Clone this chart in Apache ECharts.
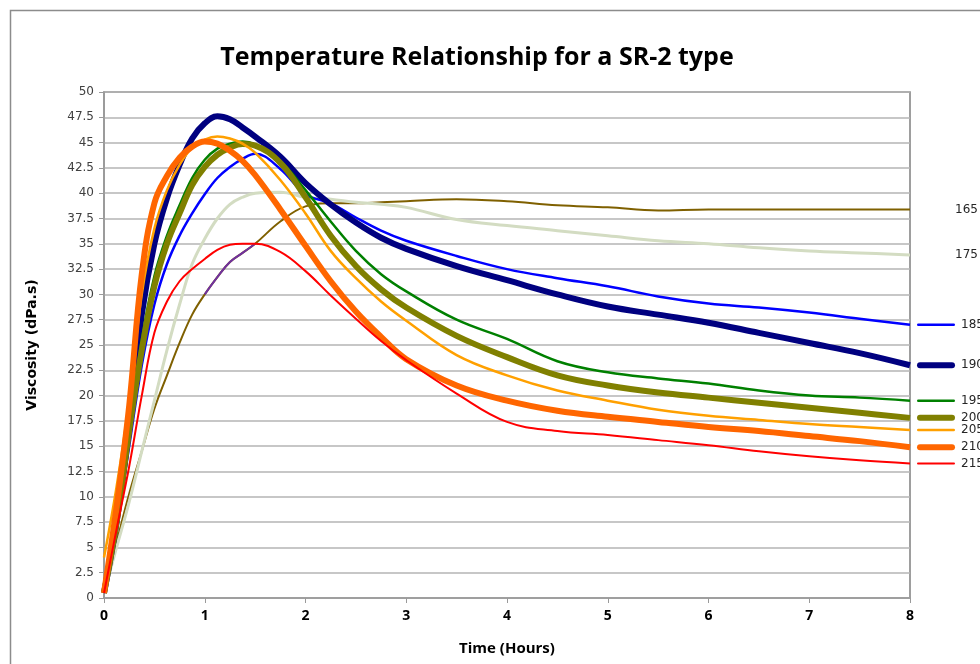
<!DOCTYPE html>
<html>
<head>
<meta charset="utf-8">
<script src="https://cdn.jsdelivr.net/npm/echarts@6/dist/echarts.min.js"></script>
<style>
  html, body { margin: 0; padding: 0; background: #ffffff; }
  #chart { width: 980px; height: 664px; }
</style>
</head>
<body>
<div id="chart"></div>
<script>
// Time (hours)
const times = [0, 0.125, 0.25, 0.375, 0.5, 0.625, 0.75, 0.875, 1, 1.125, 1.25, 1.375, 1.5, 1.75, 2, 2.25, 2.5, 2.75, 3, 3.5, 4, 4.5, 5, 5.5, 6, 6.5, 7, 7.5, 8];
// Viscosity (dPa.s) per temperature series
const v165 = [0.5, 5.5, 10.3, 14.5, 18.7, 22, 25.2, 28, 30, 31.7, 33.2, 34.1, 35, 37.2, 38.7, 39.0, 39.0, 39.1, 39.2, 39.4, 39.2, 38.8, 38.6, 38.3, 38.4, 38.4, 38.4, 38.4, 38.4];
const v175 = [0.5, 5, 9.5, 14.5, 19.5, 24.5, 29, 33, 35.5, 37.5, 38.9, 39.6, 40, 40.1, 39.6, 39.4, 39.1, 38.9, 38.6, 37.4, 36.8, 36.3, 35.8, 35.3, 35.0, 34.6, 34.3, 34.1, 33.9];
const v185 = [0.5, 7, 15, 23, 29, 33, 35.8, 38, 39.9, 41.5, 42.6, 43.4, 43.9, 42.4, 39.9, 39.0, 37.6, 36.3, 35.3, 33.8, 32.5, 31.6, 30.8, 29.8, 29.1, 28.7, 28.2, 27.6, 27.0];
const v190 = [0.5, 7.5, 17, 28, 35, 39.5, 42.8, 45.4, 46.9, 47.6, 47.3, 46.5, 45.6, 43.6, 41.0, 38.9, 37.1, 35.6, 34.5, 32.8, 31.4, 30.0, 28.8, 28.0, 27.2, 26.2, 25.2, 24.2, 23.0];
const v195 = [0.5, 7.8, 17, 25.5, 31.8, 35.8, 38.8, 41.5, 43.3, 44.4, 44.9, 45.1, 44.8, 43.2, 40.3, 37.2, 34.3, 32.0, 30.3, 27.5, 25.6, 23.4, 22.3, 21.7, 21.2, 20.5, 20.0, 19.8, 19.5];
const v200 = [0.5, 7.5, 16.5, 24.5, 30.8, 35, 38, 40.8, 42.6, 43.8, 44.5, 44.85, 44.7, 43.0, 39.6, 35.8, 32.8, 30.5, 28.7, 25.9, 23.8, 22.0, 21.0, 20.3, 19.8, 19.3, 18.8, 18.3, 17.8];
const v205 = [4, 11, 19.5, 30, 36.5, 40.3, 42.8, 44.5, 45.3, 45.6, 45.4, 44.9, 44.0, 41.3, 38.0, 34.3, 31.6, 29.3, 27.4, 24.0, 22.0, 20.5, 19.5, 18.6, 18.0, 17.6, 17.2, 16.9, 16.6];
const v210 = [0.5, 9, 19, 32, 39, 41.7, 43.5, 44.6, 45.1, 44.9, 44.2, 43.2, 41.8, 38.4, 34.8, 31.3, 28.3, 25.8, 23.6, 21.0, 19.5, 18.5, 17.9, 17.4, 16.9, 16.5, 16.0, 15.5, 14.9];
const v215 = [0.5, 6.8, 13, 20, 26.2, 29.3, 31.3, 32.5, 33.5, 34.4, 34.9, 35.0, 35.0, 34.2, 32.3, 29.9, 27.6, 25.4, 23.5, 20.2, 17.4, 16.5, 16.1, 15.6, 15.1, 14.5, 14.0, 13.6, 13.3];
// short purple stretch visible over the 165 curve
const purpleTimes = [1.0, 1.125, 1.25, 1.375, 1.5];
const purpleValues = [30, 31.7, 33.2, 34.1, 35];

const seriesNames = ['165', '175', '185', '190', '195', '200', '205', '210', '215'];
const seriesValues = [v165, v175, v185, v190, v195, v200, v205, v210, v215];
const seriesColors = ['#7f6000', '#d3dcc2', '#0000ff', '#000080', '#008000', '#808000', '#ffa000', '#ff6600', '#ff0000'];
const seriesWidths = [2, 3, 2.5, 6, 2.5, 6, 2.5, 6, 2];
const showStub = [false, false, true, true, true, true, true, true, true];

const yTicks = { min: 0, max: 50, interval: 2.5 };
const xTicks = { min: 0, max: 8, interval: 1 };

const chart = echarts.init(document.getElementById('chart'), null, { renderer: 'canvas' });

const series = seriesNames.map((name, k) => ({
  name: name,
  type: 'line',
  data: times.map((t, i) => [t, seriesValues[k][i]]),
  smooth: 0.4,
  symbol: 'none',
  lineStyle: { color: seriesColors[k], width: seriesWidths[k] },
  itemStyle: { color: seriesColors[k] },
  emphasis: { disabled: true },
  endLabel: {
    show: true,
    distance: showStub[k] ? 7 : 45,
    formatter: showStub[k] ? '{s|}{t|' + name + '}' : '{t|' + name + '}',
    rich: {
      s: { width: 38, height: seriesWidths[k], backgroundColor: seriesColors[k], borderRadius: seriesWidths[k] / 2 },
      t: { fontFamily: 'DejaVu Sans', fontSize: 12, color: '#262626', padding: [0, 0, 0, showStub[k] ? 6 : 0] }
    }
  }
}));

series.splice(1, 0, {
  name: 'segment',
  type: 'line',
  data: purpleTimes.map((t, i) => [t, purpleValues[i]]),
  smooth: 0.4,
  symbol: 'none',
  lineStyle: { color: '#7030a0', width: 2 },
  emphasis: { disabled: true }
});

chart.setOption({
  animation: false,
  backgroundColor: '#ffffff',
  title: {
    text: 'Temperature Relationship for a SR-2 type',
    left: 472,
    textAlign: 'center',
    top: 40,
    textStyle: { fontFamily: "'Open Sans', sans-serif", fontWeight: 'bold', fontSize: 25, color: '#000000' }
  },
  graphic: [{
    type: 'rect',
    shape: { x: 10.5, y: 10.5, width: 1100, height: 800 },
    style: { fill: 'none', stroke: '#8c8c8c', lineWidth: 1.5 },
    silent: true, z: -1
  }],
  grid: { left: 104, right: 70, top: 92, bottom: 66, show: true, borderColor: '#7f7f7f', borderWidth: 1.5, backgroundColor: 'transparent' },
  xAxis: {
    type: 'value',
    min: xTicks.min, max: xTicks.max, interval: xTicks.interval,
    name: 'Time (Hours)',
    nameLocation: 'middle',
    nameGap: 43,
    nameTextStyle: { fontFamily: "'Open Sans', sans-serif", fontWeight: 'bold', fontSize: 15, color: '#000' },
    axisLine: { show: true, lineStyle: { color: '#9a9a9a', width: 1.5 } },
    axisTick: { show: true, length: 5, lineStyle: { color: '#9a9a9a' } },
    axisLabel: { fontFamily: "'Open Sans', sans-serif", fontWeight: 'bold', fontSize: 14, color: '#000', margin: 11 },
    splitLine: { show: false }
  },
  yAxis: {
    type: 'value',
    min: yTicks.min, max: yTicks.max, interval: yTicks.interval,
    name: 'Viscosity (dPa.s)',
    nameLocation: 'middle',
    nameGap: 65,
    nameRotate: 90,
    nameTextStyle: { fontFamily: "'DejaVu Sans', sans-serif", fontWeight: 'bold', fontSize: 14, color: '#000' },
    axisLine: { show: true, lineStyle: { color: '#9a9a9a', width: 1.5 } },
    axisTick: { show: true, length: 5, lineStyle: { color: '#9a9a9a' } },
    axisLabel: { fontFamily: "'DejaVu Sans', sans-serif", fontSize: 12, color: '#404040', margin: 10 },
    splitLine: { show: true, lineStyle: { color: '#b4b4b4', width: 1.5 } }
  },
  series: series
});
</script>
</body>
</html>
